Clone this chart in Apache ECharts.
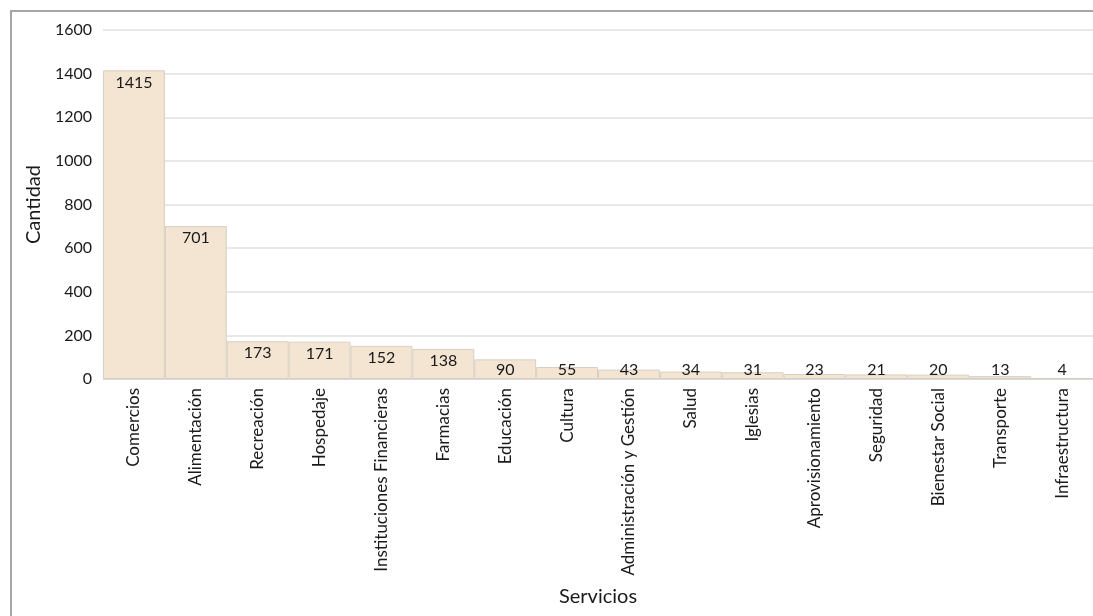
<!DOCTYPE html>
<html><head><meta charset="utf-8">
<script src="https://cdn.jsdelivr.net/npm/echarts@6/dist/echarts.min.js"></script>
<style>html,body{margin:0;padding:0;background:#fff}#c{width:1093px;height:616px}
#frame{position:absolute;left:10px;top:10px;width:1100px;height:620px;border-left:2px solid #a6a6a6;border-top:2px solid #a6a6a6;pointer-events:none}</style>
</head><body><div id="c"></div><div id="frame"></div>
<script>
const categories = ["Comercios","Alimentación","Recreación","Hospedaje","Instituciones Financieras","Farmacias","Educación","Cultura","Administración y Gestión","Salud","Iglesias","Aprovisionamiento","Seguridad","Bienestar Social","Transporte","Infraestructura"];
const values = [1415,701,173,171,152,138,90,55,43,34,31,23,21,20,13,4];
const yTicks = [0,200,400,600,800,1000,1200,1400,1600];
const font = 'Lato, "Open Sans", sans-serif';
const chart = echarts.init(document.getElementById('c'));
chart.setOption({
  animation:false,
  textStyle:{fontFamily:font},
  grid:{left:103,right:-1,top:30,bottom:237,containLabel:false},
  xAxis:{type:'category',data:categories,
    name:'Servicios',nameLocation:'middle',nameGap:208,
    nameTextStyle:{fontSize:20,color:'#1a1a1a',fontFamily:font},
    axisLine:{lineStyle:{color:'#d9d9d9',width:1}},
    axisTick:{show:false},
    axisLabel:{rotate:90,interval:0,fontSize:17,color:'#1a1a1a',margin:9,fontFamily:font}},
  yAxis:{type:'value',min:yTicks[0],max:yTicks[yTicks.length-1],interval:200,
    name:'Cantidad',nameLocation:'middle',nameGap:55,nameRotate:90,
    nameTextStyle:{fontSize:20,color:'#1a1a1a',fontFamily:font},
    axisLine:{show:false},axisTick:{show:false},
    axisLabel:{fontSize:16,color:'#1a1a1a',margin:11,fontFamily:font,formatter:v=>String(v)},
    splitLine:{lineStyle:{color:'#e0e0e0',width:1.5}}},
  series:[{type:'bar',barCategoryGap:'0%',
    data:values.map(v=>({value:v,label:{position:v>=100?'insideTop':'insideBottom',distance:v>=100?4:1}})),
    itemStyle:{color:'#F4E5D2',borderColor:'#D8CFC4',borderWidth:1},
    label:{show:true,fontSize:16,color:'#1a1a1a',fontFamily:font}}]
});
</script></body></html>
